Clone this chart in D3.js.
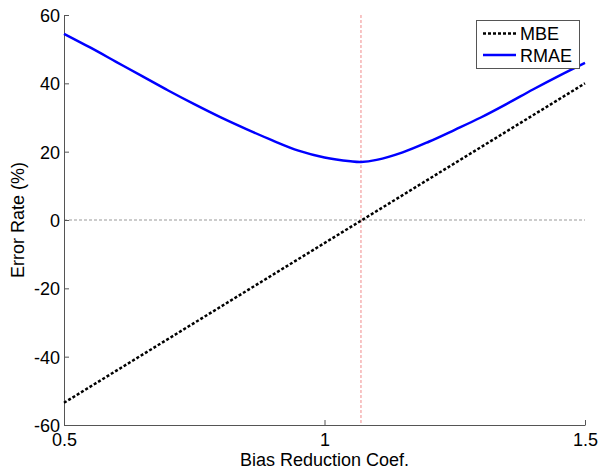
<!DOCTYPE html>
<html>
<head>
<meta charset="utf-8">
<script src="https://cdn.jsdelivr.net/npm/d3@7"></script>
<style>
  body { margin: 0; background: #fff; }
  svg { font-family: Arial, "Liberation Sans", sans-serif; }
</style>
</head>
<body>
<svg id="chart" width="598" height="472"></svg>
<script>
// values
const coefs = [0.5, 1.5];
const mbe = [-53.5, 40];
const rmaeCoefs = [0.5, 0.55, 0.6, 0.65, 0.7, 0.75, 0.8, 0.85, 0.9, 0.95, 1.0, 1.05, 1.07, 1.1, 1.15, 1.2, 1.25, 1.3, 1.35, 1.4, 1.45, 1.5];
const rmae = [54.5, 50.5, 46.3, 42.1, 37.9, 33.9, 30.1, 26.6, 23.3, 20.3, 18.3, 17.2, 17.0, 17.6, 19.8, 22.9, 26.4, 30.0, 34.0, 38.2, 42.2, 46.0];
const xTicks = [0.5, 1, 1.5];
const yTicks = [-60, -40, -20, 0, 20, 40, 60];
const optimum = 1.07;
const legendNames = ['MBE', 'RMAE'];

const margin = { top: 15, right: 13, bottom: 47, left: 64 };
const width = 598, height = 472;

const svg = d3.select('#chart');

const x = d3.scaleLinear().domain([0.5, 1.5]).range([margin.left, width - margin.right]);
const y = d3.scaleLinear().domain([-60, 60]).range([height - margin.bottom, margin.top]);

// reference lines
svg.append('line')
  .attr('x1', x(0.5)).attr('x2', x(1.5))
  .attr('y1', y(0)).attr('y2', y(0))
  .attr('stroke', '#999').attr('stroke-width', 1)
  .attr('stroke-dasharray', '3,2');

svg.append('line')
  .attr('x1', x(optimum)).attr('x2', x(optimum))
  .attr('y1', y(60)).attr('y2', y(-60))
  .attr('stroke', '#f08a8a').attr('stroke-width', 1)
  .attr('stroke-dasharray', '3,2');

// axes
const xAxis = svg.append('g')
  .attr('transform', `translate(0,${ y(-60) })`)
  .call(d3.axisBottom(x).tickValues(xTicks).tickSizeInner(-5).tickSizeOuter(0).tickPadding(8)
    .tickFormat(d => String(d)));

const yAxis = svg.append('g')
  .attr('transform', `translate(${ x(0.5) },0)`)
  .call(d3.axisLeft(y).tickValues(yTicks).tickSizeInner(-5).tickSizeOuter(0).tickPadding(4)
    .tickFormat(d => String(d)));

[xAxis, yAxis].forEach(g => {
  g.select('.domain').attr('stroke', '#555');
  g.selectAll('.tick line').attr('stroke', '#555');
  g.selectAll('.tick text').attr('fill', '#000').style('font-size', '18px');
});
yAxis.selectAll('.tick text').attr('dy', '0.36em');
xAxis.selectAll('.tick text').attr('dy', '0.72em');

// series
const line = d3.line().x(d => x(d[0])).y(d => y(d[1]));

svg.append('path')
  .datum(d3.zip(rmaeCoefs, rmae))
  .attr('fill', 'none')
  .attr('stroke', '#0000ff')
  .attr('stroke-width', 2.5)
  .attr('d', line.curve(d3.curveCatmullRom.alpha(0.5)));

svg.append('path')
  .datum(d3.zip(coefs, mbe))
  .attr('fill', 'none')
  .attr('stroke', '#000')
  .attr('stroke-width', 2.5)
  .attr('stroke-dasharray', '3,2')
  .attr('d', line.curve(d3.curveLinear));

// axis titles
svg.append('text')
  .attr('x', (x(0.5) + x(1.5)) / 2)
  .attr('y', 466)
  .attr('text-anchor', 'middle')
  .style('font-size', '18px')
  .text('Bias Reduction Coef.');

svg.append('text')
  .attr('transform', `translate(24,${ y(0) }) rotate(-90)`)
  .attr('text-anchor', 'middle')
  .style('font-size', '18px')
  .text('Error Rate (%)');

// legend
const legend = svg.append('g');
legend.append('rect')
  .attr('x', 476.5).attr('y', 20.5)
  .attr('width', 103).attr('height', 48)
  .attr('fill', '#fff').attr('stroke', '#555');

const legendStyles = [
  { color: '#000', dash: '3,2' },
  { color: '#0000ff', dash: null }
];
legendNames.forEach((name, i) => {
  const ly = 33.5 + i * 21.5;
  legend.append('line')
    .attr('x1', 483).attr('x2', 516)
    .attr('y1', ly).attr('y2', ly)
    .attr('stroke', legendStyles[i].color)
    .attr('stroke-width', 2.5)
    .attr('stroke-dasharray', legendStyles[i].dash);
  legend.append('text')
    .attr('x', 520).attr('y', ly + 6.5)
    .style('font-size', '18px')
    .text(name);
});
</script>
</body>
</html>
